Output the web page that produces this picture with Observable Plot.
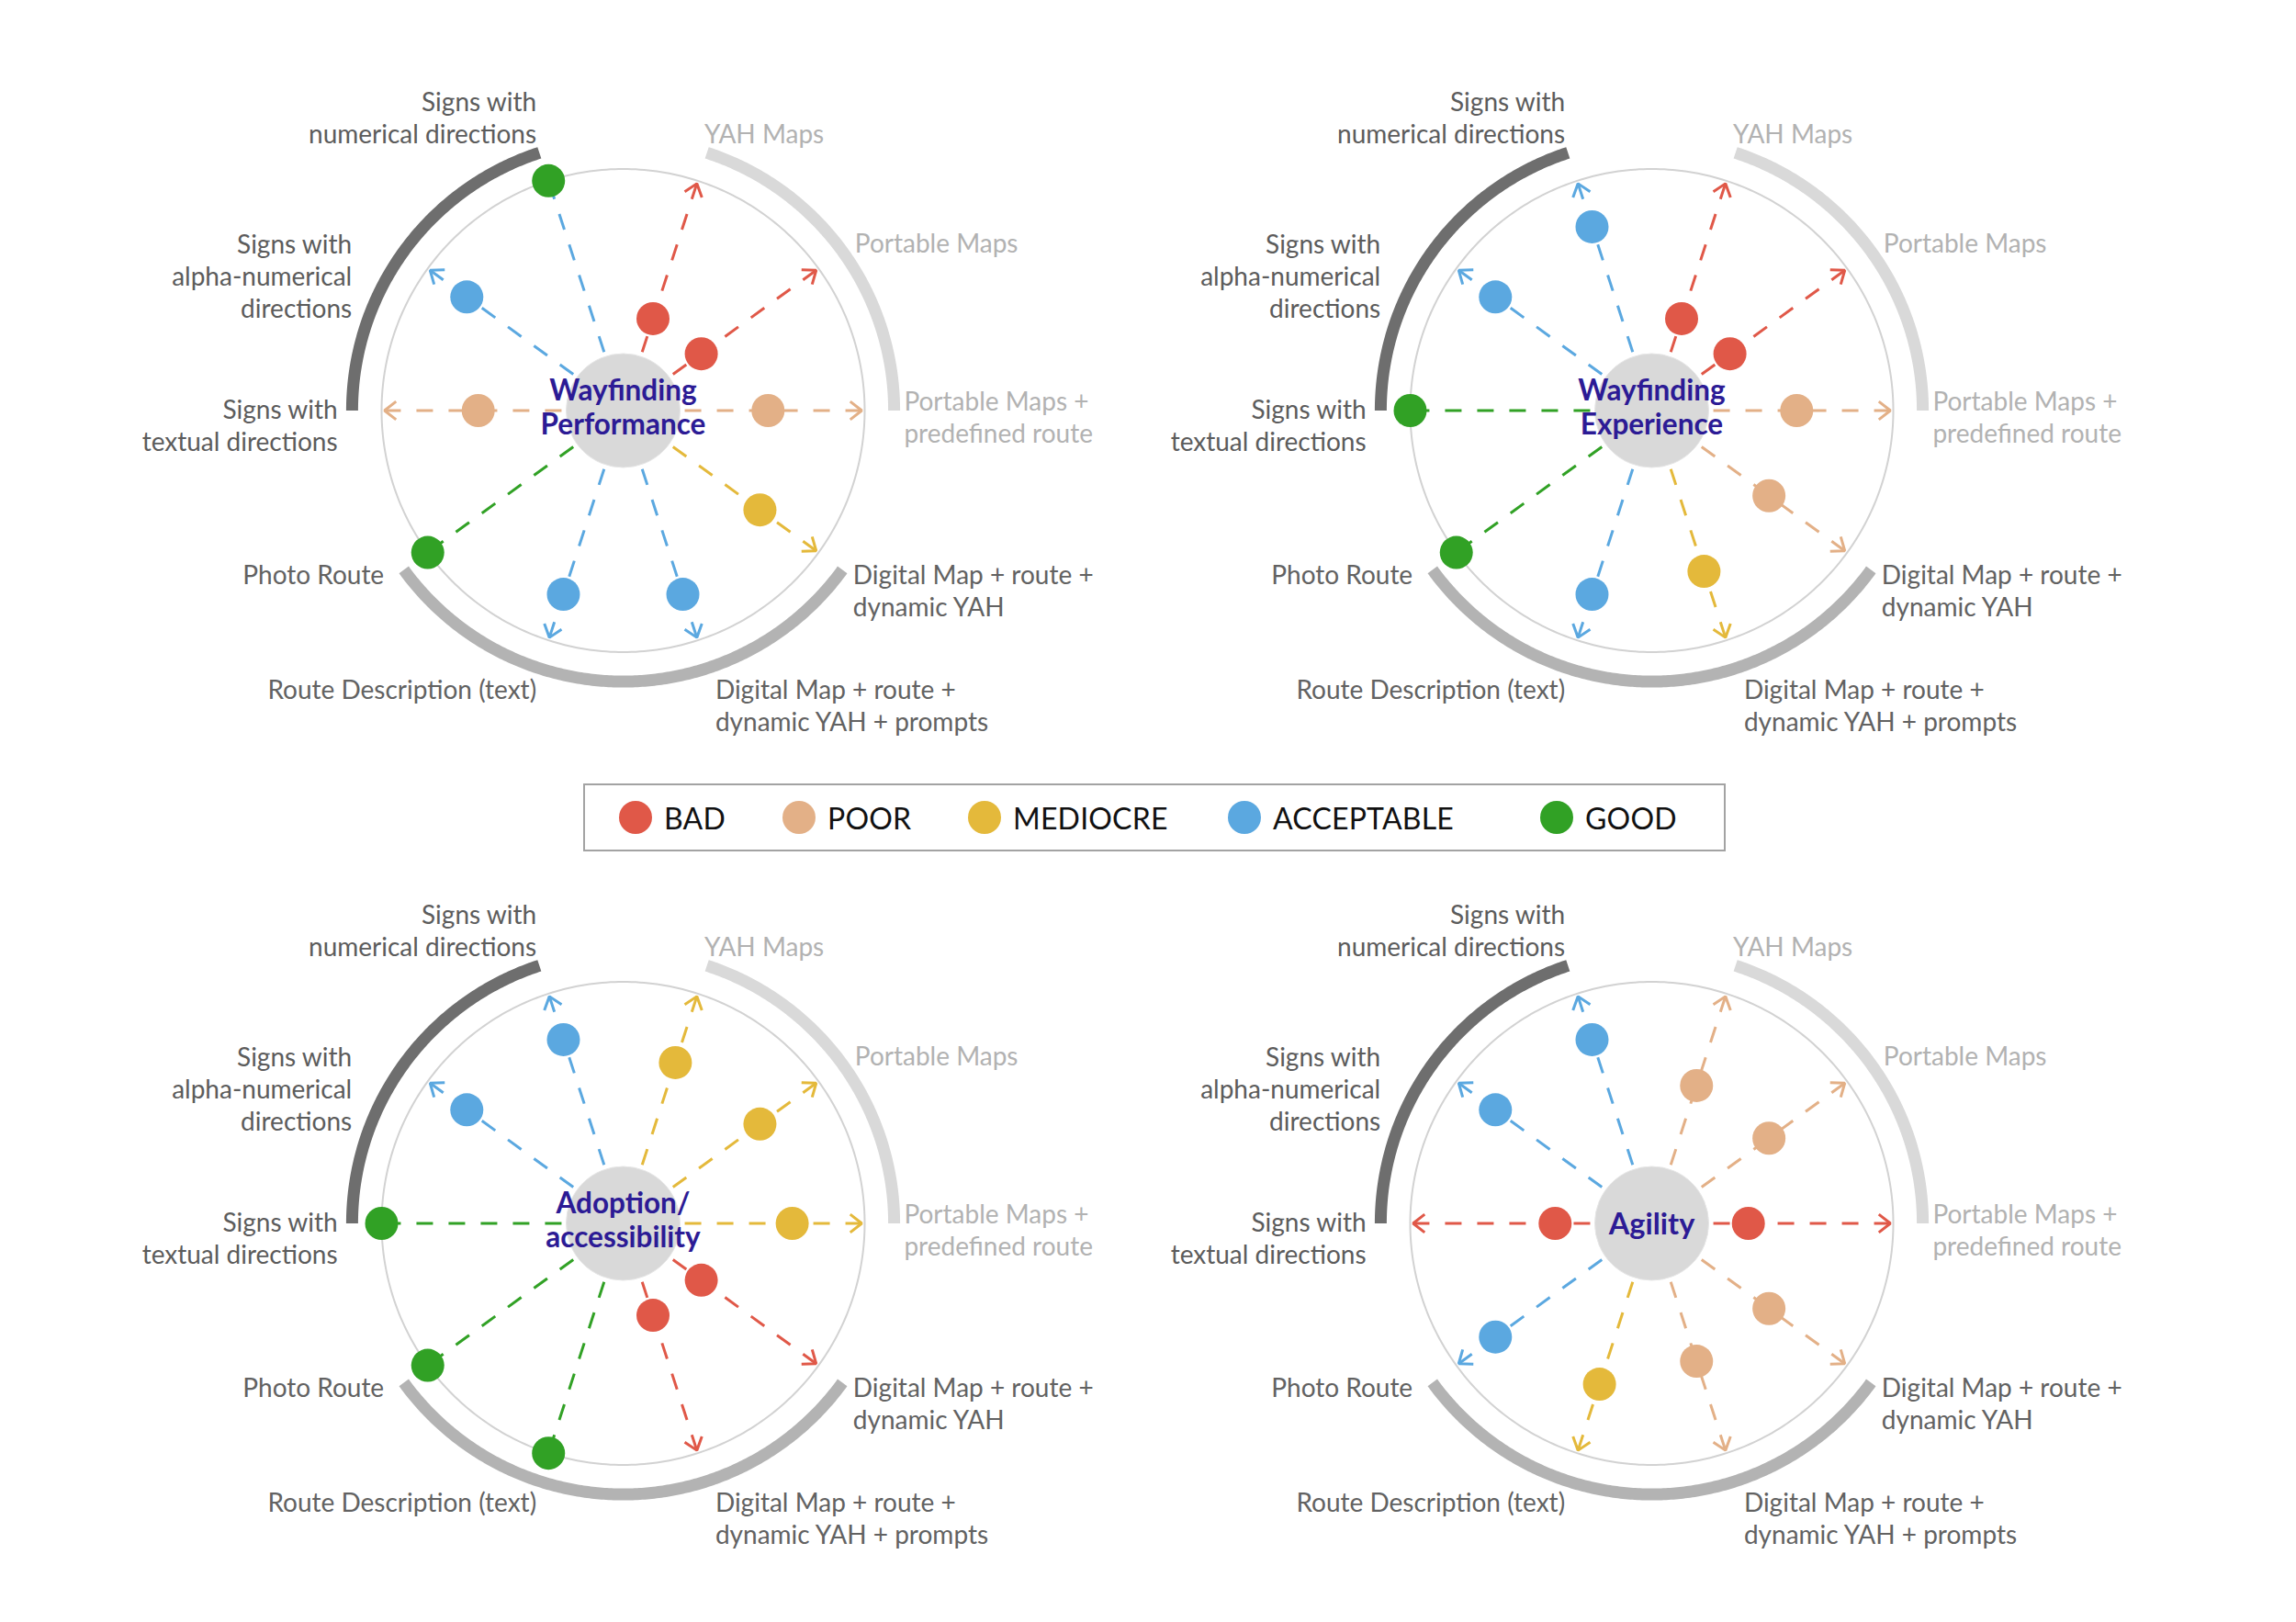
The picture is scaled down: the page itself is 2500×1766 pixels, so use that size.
<!DOCTYPE html>
<html>
<head>
<meta charset="utf-8">
<script src="https://cdn.jsdelivr.net/npm/d3@7"></script>
<script src="https://cdn.jsdelivr.net/npm/@observablehq/plot@0.6"></script>
<style>
  html, body { margin: 0; padding: 0; background: #ffffff; }
  #root { position: relative; width: 2500px; height: 1766px; overflow: hidden; background: #ffffff; font-family: Lato, "Noto Sans", sans-serif; }
  .panel { position: absolute; }
  .panel svg { max-width: none; }
  #legend { position: absolute; left: 635px; top: 853px; width: 1244px; height: 74px; box-sizing: border-box; border: 2px solid #a3a3a3; background: #fff; z-index: 5; }
  .item { position: absolute; top: 0; height: 70px; display: flex; align-items: center; }
  .swatch { width: 36px; height: 36px; border-radius: 50%; margin-right: 13px; }
  .ilabel { font-size: 32px; color: #111; font-family: Lato, sans-serif; letter-spacing: 0.2px; }
</style>
</head>
<body>
<div id="root"></div>
<script>
// ---------------- DATA ----------------
const categories = [
  "Portable Maps +\npredefined route",
  "Portable Maps",
  "YAH Maps",
  "Signs with\nnumerical directions",
  "Signs with\nalpha-numerical\ndirections",
  "Signs with\ntextual directions",
  "Photo Route",
  "Route Description (text)",
  "Digital Map + route +\ndynamic YAH + prompts",
  "Digital Map + route +\ndynamic YAH"
];
const categoryAngles = [0, 36, 72, 108, 144, 180, 216, 252, 288, 324];
const categoryGroups = ["Maps", "Maps", "Maps", "Signs", "Signs", "Signs", "Route", "Route", "Route", "Route"];
const groupNames = ["Signs", "Maps", "Route"];

const ratingNames = ["BAD", "POOR", "MEDIOCRE", "ACCEPTABLE", "GOOD"];
const ratingScores = [40, 60, 70, 80, 100];

const panelTitles = ["Wayfinding\nPerformance", "Wayfinding\nExperience", "Adoption/\naccessibility", "Agility"];
// dot ratings
const performanceRatings = ["POOR", "BAD", "BAD", "GOOD", "ACCEPTABLE", "POOR", "GOOD", "ACCEPTABLE", "ACCEPTABLE", "MEDIOCRE"];
const experienceRatings  = ["POOR", "BAD", "BAD", "ACCEPTABLE", "ACCEPTABLE", "GOOD", "GOOD", "ACCEPTABLE", "MEDIOCRE", "POOR"];
const adoptionRatings    = ["MEDIOCRE", "MEDIOCRE", "MEDIOCRE", "ACCEPTABLE", "ACCEPTABLE", "GOOD", "GOOD", "GOOD", "BAD", "BAD"];
const agilityRatings     = ["BAD", "POOR", "POOR", "ACCEPTABLE", "ACCEPTABLE", "BAD", "ACCEPTABLE", "MEDIOCRE", "POOR", "POOR"];
// spoke (line) colours as drawn in the original
const performanceSpokes  = ["POOR", "BAD", "BAD", "ACCEPTABLE", "ACCEPTABLE", "POOR", "GOOD", "ACCEPTABLE", "ACCEPTABLE", "MEDIOCRE"];
const panelRatings = [performanceRatings, experienceRatings, adoptionRatings, agilityRatings];
const panelSpokes = [performanceSpokes, experienceRatings, adoptionRatings, agilityRatings];

// ---------------- STYLE / LAYOUT ----------------
const ratingColors = ["#e05848", "#e3b087", "#e4b93b", "#5ba8e0", "#31a125"];
const groupArcColors = {Signs: "#6e6e6e", Maps: "#d9d9d9", Route: "#b3b3b3"};
const groupLabelColors = {Signs: "#5c5c5c", Maps: "#b2b2b2", Route: "#626262"};
const titleColor = "#2c1b95";
const PW = 1120, PH = 885, R = 263;          // panel size, radius of score 100 (px)
const arcScore = 112.2, spokeStart = 25.5, spokeTip = 98.8, labelRadiusScore = 118.6;
const labelOffsets = [[-6, 6], [0, 0], [-8, -6], [2, -23.5], [-43, 36], [1, 15.5], [-8, -6], [2, 6], [4, 23.5], [-2, 11.5]];
const legendX = [674, 852, 1054, 1337, 1677]; // left of swatch, page px

const rad = d3.scaleLinear([0, 100], [0, R]);
const toRad = a => a * Math.PI / 180;
const px = (a, s) => rad(s) * Math.cos(toRad(a));
const py = (a, s) => rad(s) * Math.sin(toRad(a));
const scoreOf = r => ratingScores[ratingNames.indexOf(r)];

function panel(values, spokes, title) {
  const rows = categories.map((c, i) => ({
    category: c, angle: categoryAngles[i], group: categoryGroups[i],
    rating: values[i], spoke: spokes[i], score: scoreOf(values[i])
  }));

  const circlePts = d3.range(0, 361, 1);

  const arcMarks = groupNames.map(g => {
    const angs = categoryAngles.filter((a, i) => categoryGroups[i] === g);
    const a0 = d3.min(angs), a1 = d3.max(angs);
    const pts = d3.range(a0, a1 + 0.001, 0.5);
    return Plot.line(pts, {x: a => px(a, arcScore), y: a => py(a, arcScore),
      stroke: groupArcColors[g], strokeWidth: 13, strokeLinecap: "butt"});
  });

  const wingPx = 16, wingAng = 38;
  const heads = [];
  rows.forEach((d, i) => {
    if (d.rating === "GOOD") return;
    const tx = px(d.angle, spokeTip), ty = py(d.angle, spokeTip);
    const back = toRad(d.angle + 180);
    heads.push({id: i, spoke: d.spoke, x: tx + wingPx * Math.cos(back + toRad(wingAng)), y: ty + wingPx * Math.sin(back + toRad(wingAng))});
    heads.push({id: i, spoke: d.spoke, x: tx, y: ty});
    heads.push({id: i, spoke: d.spoke, x: tx + wingPx * Math.cos(back - toRad(wingAng)), y: ty + wingPx * Math.sin(back - toRad(wingAng))});
  });

  const labelMarks = rows.map((d, i) => {
    const left = Math.cos(toRad(d.angle)) < -0.01;
    return Plot.text([d], {
      x: d => px(d.angle, labelRadiusScore), y: d => py(d.angle, labelRadiusScore),
      text: "category", textAnchor: left ? "end" : "start",
      dx: labelOffsets[i][0], dy: labelOffsets[i][1],
      lineAnchor: "middle", lineHeight: 1.25,
      fontSize: 28, fill: groupLabelColors[d.group], fontFamily: "Lato",
      style: "letter-spacing:0.15px"
    });
  });

  const multiLine = title.includes("\n");

  return Plot.plot({
    width: PW, height: PH, margin: 0,
    x: {domain: [-PW / 2, PW / 2], axis: null},
    y: {domain: [-PH / 2, PH / 2], axis: null},
    color: {domain: ratingNames, range: ratingColors},
    style: {background: "transparent", fontFamily: "Lato", overflow: "visible"},
    marks: [
      Plot.line(circlePts, {x: a => px(a, 100), y: a => py(a, 100), stroke: "#d2d2d2", strokeWidth: 2}),
      ...arcMarks,
      Plot.link(rows, {
        x1: d => px(d.angle, spokeStart), y1: d => py(d.angle, spokeStart),
        x2: d => px(d.angle, spokeTip), y2: d => py(d.angle, spokeTip),
        stroke: "spoke", strokeWidth: 3, strokeDasharray: "18 17"
      }),
      Plot.line(heads, {x: "x", y: "y", z: "id", stroke: "spoke", strokeWidth: 3, strokeLinejoin: "miter", strokeLinecap: "butt"}),
      Plot.dot([title], {x: () => px(0, 0), y: () => py(0, 0), r: 62, fill: "#d9d9d9", stroke: "#e6e6e6", strokeWidth: 1}),
      Plot.text([title], {x: () => px(0, 0), y: () => py(0, 0), text: d => d, fontSize: multiLine ? 31.5 : 32.5, fontWeight: 700,
        fill: titleColor, lineHeight: 1.17, dy: multiLine ? -4 : 0, fontFamily: "Lato"}),
      Plot.dot(rows, {x: d => px(d.angle, d.score), y: d => py(d.angle, d.score), r: 18, fill: "rating"}),
      ...labelMarks
    ]
  });
}

const root = document.getElementById("root");
panelTitles.forEach((t, k) => {
  const div = document.createElement("div");
  div.className = "panel";
  div.style.left = (118 + (k % 2) * 1120) + "px";
  div.style.top = (4 + Math.floor(k / 2) * 885) + "px";
  div.appendChild(panel(panelRatings[k], panelSpokes[k], t));
  root.appendChild(div);
});

const legend = document.createElement("div");
legend.id = "legend";
ratingNames.forEach((r, i) => {
  const item = document.createElement("div");
  item.className = "item";
  item.style.left = (legendX[i] - 635 - 2) + "px";
  const sw = document.createElement("span");
  sw.className = "swatch";
  sw.style.background = ratingColors[i];
  const lb = document.createElement("span");
  lb.className = "ilabel";
  lb.textContent = r;
  item.appendChild(sw); item.appendChild(lb);
  legend.appendChild(item);
});
root.appendChild(legend);
</script>
</body>
</html>
